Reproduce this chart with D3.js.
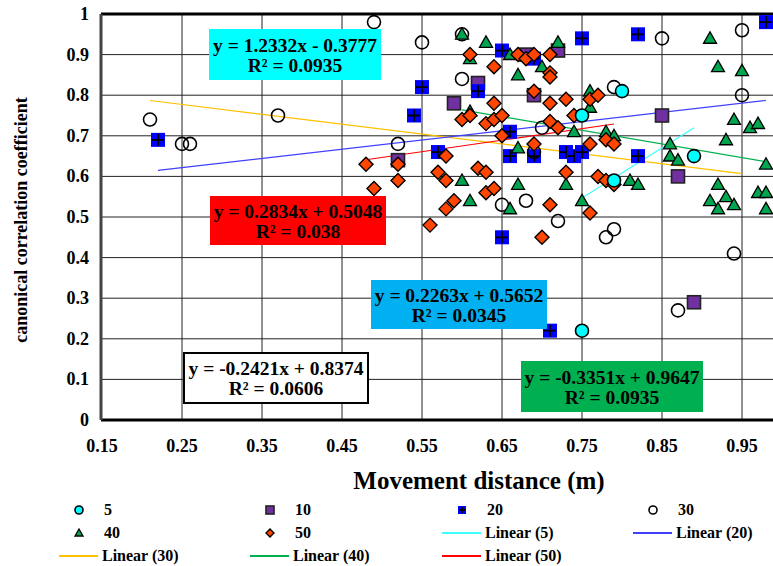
<!DOCTYPE html>
<html>
<head>
<meta charset="utf-8">
<script src="https://cdn.jsdelivr.net/npm/d3@7"></script>
<style>
  body { margin: 0; background: #fff; }
</style>
</head>
<body>
<div class="canvas"></div>
<script>
// data
const s5 = [[0.75, 0.75], [0.80, 0.81], [0.79, 0.59], [0.89, 0.65], [0.75, 0.22]]
const s10 = [[0.59, 0.78], [0.62, 0.83], [0.52, 0.64], [0.68, 0.90], [0.72, 0.91], [0.69, 0.80],
  [0.85, 0.75], [0.87, 0.60], [0.89, 0.29]]
const s20 = [[0.22, 0.69], [0.55, 0.82], [0.54, 0.75], [0.57, 0.66], [0.62, 0.81], [0.65, 0.91],
  [0.69, 0.89], [0.75, 0.94], [0.66, 0.71], [0.66, 0.65], [0.69, 0.65], [0.73, 0.66], [0.74, 0.65],
  [0.75, 0.66], [0.82, 0.95], [0.82, 0.65], [0.98, 0.98], [0.65, 0.45], [0.71, 0.22]]
const s30 = [[0.21, 0.74], [0.25, 0.68], [0.26, 0.68], [0.37, 0.75], [0.49, 0.98], [0.55, 0.93],
  [0.60, 0.95], [0.60, 0.84], [0.52, 0.68], [0.70, 0.72], [0.69, 0.66], [0.79, 0.82], [0.65, 0.53],
  [0.68, 0.54], [0.72, 0.49], [0.79, 0.47], [0.78, 0.45], [0.85, 0.94], [0.95, 0.96], [0.95, 0.80],
  [0.94, 0.41], [0.87, 0.27]]
const s40 = [[0.60, 0.95], [0.61, 0.89], [0.61, 0.76], [0.60, 0.59], [0.61, 0.54], [0.63, 0.93],
  [0.66, 0.90], [0.72, 0.93], [0.70, 0.87], [0.67, 0.85], [0.76, 0.81], [0.76, 0.77], [0.74, 0.71],
  [0.78, 0.71], [0.79, 0.70], [0.67, 0.67], [0.67, 0.58], [0.73, 0.58], [0.81, 0.59], [0.66, 0.52],
  [0.75, 0.54], [0.82, 0.58], [0.91, 0.94], [0.92, 0.87], [0.95, 0.86], [0.94, 0.74], [0.96, 0.72],
  [0.97, 0.73], [0.93, 0.69], [0.86, 0.68], [0.86, 0.65], [0.87, 0.64], [0.98, 0.63], [0.92, 0.58],
  [0.97, 0.56], [0.98, 0.56], [0.91, 0.54], [0.93, 0.55], [0.94, 0.53], [0.92, 0.52], [0.98, 0.52]]
const s50 = [[0.61, 0.90], [0.60, 0.74], [0.61, 0.75], [0.52, 0.63], [0.48, 0.63], [0.58, 0.65],
  [0.52, 0.59], [0.57, 0.61], [0.58, 0.59], [0.62, 0.62], [0.49, 0.57], [0.59, 0.54], [0.58, 0.52],
  [0.56, 0.48], [0.67, 0.90], [0.68, 0.89], [0.69, 0.90], [0.71, 0.90], [0.64, 0.87], [0.71, 0.855],
  [0.71, 0.845], [0.69, 0.81], [0.71, 0.78], [0.73, 0.79], [0.64, 0.78], [0.76, 0.79], [0.77, 0.80],
  [0.74, 0.75], [0.63, 0.73], [0.64, 0.74], [0.65, 0.75], [0.65, 0.70], [0.71, 0.735], [0.72, 0.72],
  [0.76, 0.68], [0.78, 0.69], [0.79, 0.68], [0.69, 0.68], [0.63, 0.61], [0.73, 0.61], [0.77, 0.60],
  [0.78, 0.59], [0.79, 0.58], [0.63, 0.56], [0.64, 0.57], [0.71, 0.53], [0.76, 0.51], [0.70, 0.45]]

// trendline end points (as drawn)
const trend5 = [[0.75, 0.547], [0.89, 0.720]]
const trend20 = [[0.22, 0.615], [0.98, 0.787]]
const trend30 = [[0.21, 0.787], [0.95, 0.607]]
const trend40 = [[0.60, 0.764], [0.98, 0.636]]
const trend50 = [[0.48, 0.641], [0.79, 0.729]]

const xTicks = [0.15, 0.25, 0.35, 0.45, 0.55, 0.65, 0.75, 0.85, 0.95]
const yTicks = [0, 0.1, 0.2, 0.3, 0.4, 0.5, 0.6, 0.7, 0.8, 0.9, 1]

// equation labels: [line1, line2, fill]
const labels = [
  ['y = 1.2332x - 0.3777', 'R² = 0.0935', '#00ffff'],
  ['y = 0.2834x + 0.5048', 'R² = 0.038', '#ff0000'],
  ['y = 0.2263x + 0.5652', 'R² = 0.0345', '#00b0f0'],
  ['y = -0.2421x + 0.8374', 'R² = 0.0606', '#ffffff'],
  ['y = -0.3351x + 0.9647', 'R² = 0.0935', '#00b050']
]
const labelBoxes = [[209, 29, 172, 51], [210, 196, 176, 49], [371, 280, 176, 49], [184, 353, 184, 50], [521, 361, 182, 51]]

const dims = { width: 773, height: 566 }
const plot = { left: 102, top: 14, right: 782, bottom: 420 }

const svg = d3.select('.canvas')
  .append('svg')
  .attr('width', dims.width)
  .attr('height', dims.height)
  .attr('font-family', "'Liberation Serif', 'DejaVu Serif', serif")
  .attr('font-weight', 'bold')

const x = d3.scaleLinear().domain([0.15, 1.0]).range([plot.left, plot.right])
const y = d3.scaleLinear().domain([0, 1]).range([plot.bottom, plot.top])

// grid
const grid = svg.append('g')
grid.selectAll('.vg')
  .data(xTicks.filter(d => d > 0.15))
  .enter().append('line')
    .attr('x1', d => x(d)).attr('x2', d => x(d))
    .attr('y1', plot.top).attr('y2', plot.bottom)
    .attr('stroke', '#222').attr('stroke-width', 1)
grid.selectAll('.hg')
  .data(yTicks.filter(d => d > 0 && d < 1))
  .enter().append('line')
    .attr('x1', plot.left).attr('x2', plot.right)
    .attr('y1', d => y(d)).attr('y2', d => y(d))
    .attr('stroke', '#222').attr('stroke-width', 1)

// frame
svg.append('line').attr('x1', plot.left - 1).attr('x2', plot.right).attr('y1', plot.top).attr('y2', plot.top)
  .attr('stroke', '#000').attr('stroke-width', 3)
svg.append('line').attr('x1', plot.left - 1).attr('x2', plot.right).attr('y1', plot.bottom).attr('y2', plot.bottom)
  .attr('stroke', '#000').attr('stroke-width', 3)
svg.append('line').attr('x1', plot.left - 1).attr('x2', plot.left - 1).attr('y1', plot.top).attr('y2', plot.bottom)
  .attr('stroke', '#444').attr('stroke-width', 3)

// tick labels
svg.append('g').selectAll('text')
  .data(xTicks)
  .enter().append('text')
    .attr('x', d => x(d)).attr('y', 452)
    .attr('text-anchor', 'middle')
    .attr('font-size', 18)
    .text(d => d.toFixed(2))
svg.append('g').selectAll('text')
  .data(yTicks)
  .enter().append('text')
    .attr('x', 89).attr('y', d => y(d) + 6)
    .attr('text-anchor', 'end')
    .attr('font-size', 18)
    .text(d => d === 0 || d === 1 ? d : d.toFixed(1))

// axis titles
svg.append('text')
  .attr('x', 479).attr('y', 489)
  .attr('text-anchor', 'middle')
  .attr('font-size', 25)
  .text('Movement distance (m)')
svg.append('text')
  .attr('transform', 'translate(27, 220) rotate(-90)')
  .attr('text-anchor', 'middle')
  .attr('font-size', 18)
  .text('canonical correlation coefficient')

// trendlines
const line = d3.line().x(d => x(d[0])).y(d => y(d[1]))
const trends = [
  [trend30, '#ffc000'], [trend40, '#00b050'], [trend50, '#ff0000'],
  [trend20, '#4040ff'], [trend5, '#40ffff']
]
svg.append('g').selectAll('path')
  .data(trends)
  .enter().append('path')
    .attr('d', d => line(d[0]))
    .attr('stroke', d => d[1])
    .attr('stroke-width', 1.2)
    .attr('fill', 'none')

// marker drawers
const markers = {
  circle: (g, r, fill) => g.append('circle').attr('r', r).attr('fill', fill).attr('stroke', '#000').attr('stroke-width', 1.6),
  square: (g, r, fill) => g.append('rect').attr('x', -r).attr('y', -r).attr('width', 2 * r).attr('height', 2 * r)
    .attr('fill', fill).attr('stroke', '#222').attr('stroke-width', 1.6),
  plus: (g, r, fill) => {
    g.append('rect').attr('x', -r).attr('y', -r).attr('width', 2 * r).attr('height', 2 * r).attr('fill', fill)
    g.append('path').attr('d', `M${-r + 1},0H${r - 1}M0,${-r + 1}V${r - 1}`).attr('stroke', '#000').attr('stroke-width', 1.8)
  },
  triangle: (g, r, fill) => g.append('path').attr('d', `M0,${-r}L${r},${r * 0.75}L${-r},${r * 0.75}Z`)
    .attr('fill', fill).attr('stroke', '#000').attr('stroke-width', 1.3),
  diamond: (g, r, fill) => g.append('path').attr('d', `M0,${-r}L${r},0L0,${r}L${-r},0Z`)
    .attr('fill', fill).attr('stroke', '#000').attr('stroke-width', 1.4)
}

const series = [
  { name: '5', data: s5, shape: 'circle', fill: '#00ffff', r: 6.5 },
  { name: '10', data: s10, shape: 'square', fill: '#7030a0', r: 6.5 },
  { name: '20', data: s20, shape: 'plus', fill: '#0000ff', r: 7 },
  { name: '30', data: s30, shape: 'circle', fill: 'none', r: 6.5 },
  { name: '40', data: s40, shape: 'triangle', fill: '#00a550', r: 6.5 },
  { name: '50', data: s50, shape: 'diamond', fill: '#ff4500', r: 7 }
]

// draw order: 10, 20, 30, 40, 50, 5 on top
const order = [1, 2, 3, 4, 5, 0]
order.forEach(i => {
  const s = series[i]
  svg.append('g').selectAll('g')
    .data(s.data)
    .enter().append('g')
      .attr('transform', d => `translate(${x(d[0])}, ${y(d[1])})`)
      .each(function() { markers[s.shape](d3.select(this), s.r, s.fill) })
})

// equation boxes
labelBoxes.forEach((b, i) => {
  const [l1, l2, fill] = labels[i]
  const g = svg.append('g').attr('transform', `translate(${b[0]}, ${b[1]})`)
  g.append('rect').attr('width', b[2]).attr('height', b[3]).attr('fill', fill)
    .attr('stroke', fill === '#ffffff' ? '#000' : 'none').attr('stroke-width', 2)
  g.append('text').attr('x', b[2] / 2).attr('y', b[3] / 2 - 3).attr('text-anchor', 'middle').attr('font-size', 19.5).text(l1)
  g.append('text').attr('x', b[2] / 2).attr('y', b[3] / 2 + 17).attr('text-anchor', 'middle').attr('font-size', 19.5).text(l2)
})

// legend
const legendItems = [
  { label: '5', s: 0 }, { label: '10', s: 1 }, { label: '20', s: 2 }, { label: '30', s: 3 },
  { label: '40', s: 4 }, { label: '50', s: 5 }, { label: 'Linear (5)', t: '#40ffff' }, { label: 'Linear (20)', t: '#4040ff' },
  { label: 'Linear (30)', t: '#ffc000' }, { label: 'Linear (40)', t: '#00b050' }, { label: 'Linear (50)', t: '#ff0000' }
]
const colX = [59, 250, 442, 633]
const rowY = [510, 533, 556]
legendItems.forEach((it, i) => {
  const cx = colX[i % 4], cy = rowY[Math.floor(i / 4)]
  const g = svg.append('g').attr('transform', `translate(${cx}, ${cy})`)
  if (it.t) {
    g.append('line').attr('x1', 0).attr('x2', 39).attr('stroke', it.t).attr('stroke-width', 2)
    g.append('text').attr('x', 43).attr('y', 5).attr('font-size', 16).text(it.label)
  } else {
    const s = series[it.s]
    const m = g.append('g').attr('transform', 'translate(20, 0)')
    markers[s.shape](m, 4, s.fill)
    g.append('text').attr('x', 45).attr('y', 5).attr('font-size', 16).text(it.label)
  }
})
</script>
</body>
</html>
